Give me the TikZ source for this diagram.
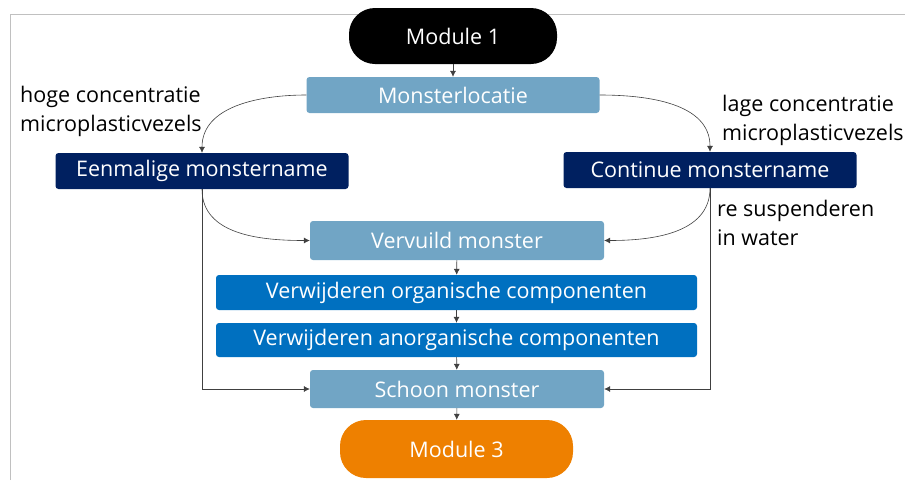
\documentclass[tikz,border=0pt]{standalone}
\usepackage{fontspec}
\setmainfont{Open Sans}
\usetikzlibrary{arrows.meta}
\definecolor{lightblue}{HTML}{71A5C5}
\definecolor{navy}{HTML}{002060}
\definecolor{midblue}{HTML}{0070C0}
\definecolor{orangeM}{HTML}{EE8000}
\definecolor{frame}{HTML}{C0C0C0}
\begin{document}
\begin{tikzpicture}[x=1pt,y=-1pt,
  box/.style={rectangle, rounded corners=3pt, inner sep=0pt, text=white,
    font=\fontsize{21.5}{24}\selectfont},
  pill/.style={rectangle, rounded corners=26pt, inner sep=0pt, text=white,
    font=\fontsize{21.5}{24}\selectfont},
  lbl/.style={align=left, anchor=base west, inner sep=0pt,
    font=\fontsize{21.5}{28.5}\selectfont},
  conn/.style={draw=black!75, line width=0.6pt, -{Latex[length=6pt,width=6pt]}}]
\useasboundingbox (0,0) rectangle (905,480);
% frame lines
\draw[frame, line width=0.8pt] (10,480) -- (10,14) -- (905,14);

% nodes
\node[pill, fill=black, minimum width=208pt, minimum height=56pt] (m1) at (453,36) {Module 1};
\node[box, fill=lightblue, minimum width=293pt, minimum height=36pt] (loc) at (453,95) {Monsterlocatie};
\node[box, fill=navy, minimum width=293pt, minimum height=36pt] (een) at (202,171) {Eenmalige monstername};
\node[box, fill=navy, minimum width=293pt, minimum height=36pt] (con) at (710,170) {Continue monstername};
\node[box, fill=lightblue, minimum width=294pt, minimum height=39pt] (vv) at (457,240.5) {Vervuild monster};
\node[box, fill=midblue, minimum width=481pt, minimum height=35pt] (org) at (456.5,292.5) {Verwijderen organische componenten};
\node[box, fill=midblue, minimum width=481pt, minimum height=34pt] (anorg) at (456.5,340) {Verwijderen anorganische componenten};
\node[box, fill=lightblue, minimum width=294pt, minimum height=38pt] (sch) at (457,389) {Schoon monster};
\node[pill, fill=orangeM, minimum width=233pt, minimum height=58pt] (m3) at (456.5,449) {Module 3};

% labels (anchored at the baseline of their last line)
\node[lbl] (hoog) at (20,131) {hoge concentratie\\microplasticvezels};
\node[lbl] (laag) at (722,140) {lage concentratie\\microplasticvezels};
\node[lbl] (resus) at (717,245) {re suspenderen\\in water};

% connectors
\draw[conn] (m1) -- (loc);
\draw[conn] (loc.west) to[out=180,in=90] (een.north);
\draw[conn] (loc.east) to[out=0,in=90] (con.north);
\draw[conn] (een.south) to[out=-90,in=180] (vv.west);
\draw[conn] (con.south) to[out=-90,in=0] (vv.east);
\draw[conn] (een.south) |- (sch.west);
\draw[conn] (con.south) |- (sch.east);
\draw[conn] (vv) -- (org);
\draw[conn] (org) -- (anorg);
\draw[conn] (anorg) -- (sch);
\draw[conn] (sch) -- (m3);
\end{tikzpicture}
\end{document}
